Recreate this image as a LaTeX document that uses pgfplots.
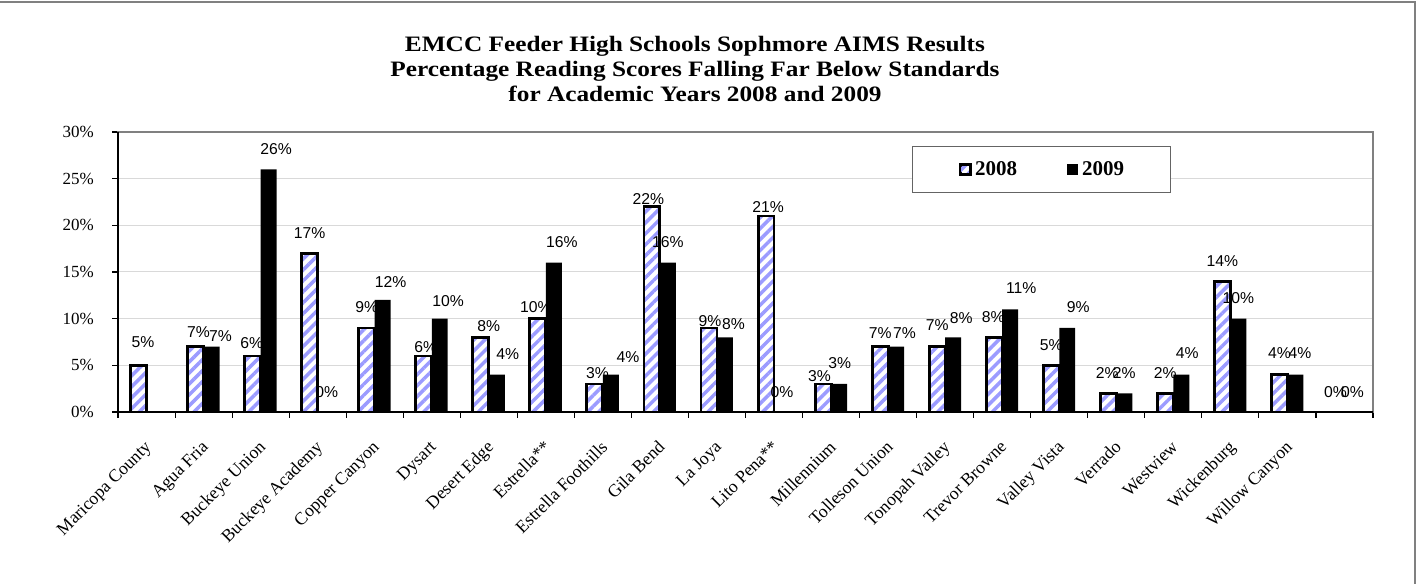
\documentclass[border=0pt]{standalone}
\usepackage{fontspec}
\setmainfont{Liberation Serif}
\newfontfamily\labfont{Liberation Sans}
\newfontfamily\titlefont{Liberation Serif}[FakeStretch=1.15]
\usepackage{pgfplots}
\pgfplotsset{compat=1.18}
\usetikzlibrary{patterns.meta}
\definecolor{stripe}{RGB}{155,155,255}
\definecolor{gridc}{RGB}{217,217,217}
\definecolor{framec}{RGB}{128,128,128}
\definecolor{legc}{RGB}{100,100,100}
\begin{document}
\begin{tikzpicture}
\useasboundingbox (0pt,0pt) rectangle (1064.25pt,438pt);
\fill[white] (0pt,0pt) rectangle (1064.25pt,438pt);
\draw[framec, line width=1.1pt] (0pt,436.5pt) -- (1061.25pt,436.5pt) -- (1061.25pt,-3pt);
\node[anchor=base, inner sep=0pt, font=\titlefont\bfseries\fontsize{16.5}{18.75}\selectfont] at (521.25pt,399.2pt) {EMCC Feeder High Schools Sophmore AIMS Results};
\node[anchor=base, inner sep=0pt, font=\titlefont\bfseries\fontsize{16.5}{18.75}\selectfont] at (521.25pt,380.5pt) {Percentage Reading Scores Falling Far Below Standards};
\node[anchor=base, inner sep=0pt, font=\titlefont\bfseries\fontsize{16.5}{18.75}\selectfont] at (521.25pt,361.7pt) {for Academic Years 2008 and 2009};
\begin{axis}[
  at={(88.5pt,129pt)}, anchor=south west,
  scale only axis, width=941.25pt, height=210pt,
  xmin=-0.5, xmax=21.5, ymin=0, ymax=30,
  ybar, bar width=0.28,
  axis line style={draw=framec, line width=1.1pt},
  extra description/.code={\draw[black, line width=1.1pt] (axis description cs:0,1) -- (axis description cs:0,0) -- (axis description cs:1,0);},
  tick pos=left, tick align=outside,
  major tick length=4.5pt, minor tick length=4.5pt,
  tick style={black, line width=0.8pt},
  xtick={0,...,21},
  xticklabels={Maricopa County, Agua Fria, Buckeye Union, Buckeye Academy, Copper Canyon, Dysart, Desert Edge, Estrella**, Estrella Foothills, Gila Bend, La Joya, Lito Pena**, Millennium, Tolleson Union, Tonopah Valley, Trevor Browne, Valley Vista, Verrado, Westview, Wickenburg, Willow Canyon, {}},
  every major x tick/.append style={draw=none},
  minor xtick={-0.5,0.5,...,21.5},
  ytick={0,5,...,30},
  yticklabel={\pgfmathprintnumber{\tick}\%},
  ymajorgrids, grid style={gridc, line width=0.75pt},
  /pgf/number format/assume math mode=true,
  yticklabel style={font=\fontsize{12.75}{15}\selectfont, anchor=east, inner sep=0pt, xshift=-13.5pt},
  xticklabel style={font=\fontsize{13.3}{15}\selectfont, xshift=-2.25pt, yshift=-16pt, rotate=45, anchor=north east, inner sep=0pt},
  legend columns=2,
  legend style={at={(0.6327,0.95)}, anchor=north west, draw=legc, line width=0.75pt,
    inner xsep=35pt, inner ysep=11.2pt, font=\bfseries\fontsize{15.75}{18}\selectfont,
    nodes={inner sep=0pt},
    /tikz/every even column/.append style={column sep=37.5pt},
    /tikz/every odd column/.append style={column sep=3pt}},
  nodes near coords={\pgfmathprintnumber{\pgfplotspointmeta}\%},
  every node near coord/.append style={font=\labfont\fontsize{11.8}{14}\selectfont, text=black, anchor=center, inner sep=0pt, xshift=\labdx*0.75pt, yshift=\labdy*0.75pt},
]
\addplot[bar shift=-0.14, draw=black, line width=2.2pt, pattern={Lines[angle=45,distance=5.8pt,line width=2.6pt]}, pattern color=stripe, preaction={fill=white},
  visualization depends on={\thisrow{dx} \as \labdx},
  visualization depends on={\thisrow{dy} \as \labdy},
  legend image code/.code={\draw[##1, line width=1.6pt] (0.8pt,-3.7pt) rectangle (8.2pt,3.7pt);}]
table[x=x, y=y] {
x y dx dy
0 5 4.5 23.3
1 7 3 14.3
2 6 -1 12.7
3 17 0 20.6
4 9 0 21.3
5 6 2 8.7
6 8 8 11.3
7 10 -2 12
8 3 2.5 10.7
9 22 -3.5 7.7
10 9 1 7.3
11 21 2 9.3
12 3 -3.7 8
13 7 0 14
14 7 0 21.7
15 8 -1 20
16 5 0 20.3
17 2 -1 20
18 2 0 20
19 14 0 20.3
20 4 0 21.3
21 0 -1 20.3
};
\addlegendentry{2008}
\addplot[bar shift=0.14, draw=none, fill=black,
  visualization depends on={\thisrow{dx} \as \labdx},
  visualization depends on={\thisrow{dy} \as \labdy},
  legend image code/.code={\fill[black] (0pt,-4.1pt) rectangle (8.25pt,4.1pt);}]
table[x=x, y=y] {
x y dx dy
1 7 9 10.7
2 26 7.5 20.3
3 0 1 20
4 12 8 18.3
5 10 8.5 17.7
6 4 11 20.7
7 16 8 21
8 4 17 17.3
9 16 0 21
10 8 8.5 13.3
11 0 0 20.3
12 3 0.7 21
13 7 8.5 13.7
14 8 8 19
15 11 11 21
16 9 11 21.3
17 2 0 20
18 4 6 21.3
19 10 0 21
20 4 4.5 21.3
21 0 0 20.3
};
\addlegendentry{2009}
\end{axis}
\end{tikzpicture}
\end{document}
